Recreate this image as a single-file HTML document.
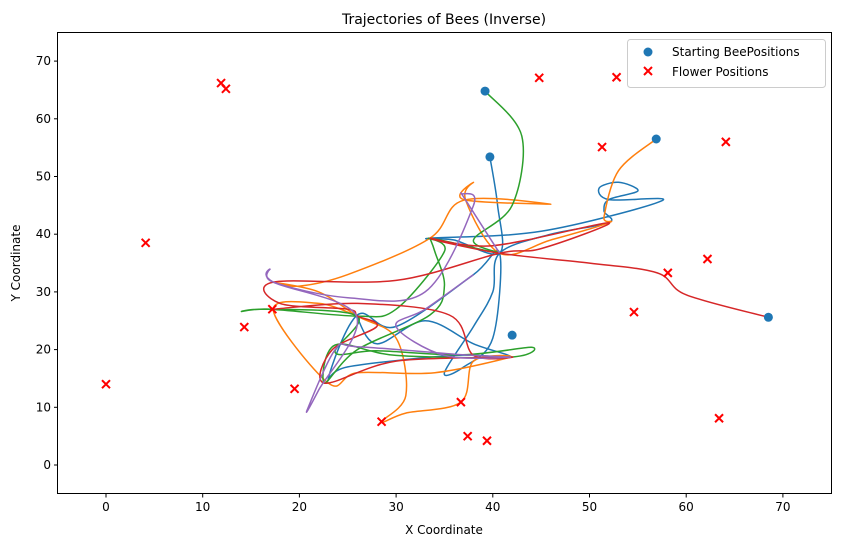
<!DOCTYPE html>
<html><head><meta charset="utf-8">
<style>
html,body{margin:0;padding:0;background:#fff;}
svg{display:block;font-family:"DejaVu Sans","Liberation Sans",sans-serif;}
</style></head>
<body>
<svg id="chart" width="841" height="547" viewBox="0 0 841 547">
<text x="444" y="24" font-size="14" text-anchor="middle">Trajectories of Bees (Inverse)</text>
<g id="plot"></g>
<g id="axes"></g>
<text x="444" y="534" font-size="12" text-anchor="middle">X Coordinate</text>
<text x="20" y="263" font-size="12" text-anchor="middle" transform="rotate(-90 20 263)">Y Coordinate</text>
<g>
<rect x="627.5" y="39.5" width="198" height="48" rx="3" fill="#fff" stroke="#ccc"/>
<circle cx="648" cy="52" r="4.5" fill="#1f77b4"/>
<text x="672" y="56" font-size="12">Starting BeePositions</text>
<path d="M644,67 l8,8 M652,67 l-8,8" stroke="red" stroke-width="2"/>
<text x="672" y="76" font-size="12">Flower Positions</text>
</g>
</svg>
<script>
const xTicks=[0,10,20,30,40,50,60,70];
const yTicks=[0,10,20,30,40,50,60,70];
const beeX=[39.2,39.7,56.9,68.5,42.0];
const beeY=[64.8,53.4,56.5,25.6,22.5];
const flowerX=[11.9,12.4,44.8,52.8,64.1,51.3,4.1,0,14.3,17.2,19.5,28.5,36.7,37.4,39.4,62.2,58.1,54.6,63.4];
const flowerY=[66.2,65.2,67.1,67.2,56.0,55.1,38.5,14.0,23.9,27.0,13.2,7.5,10.9,5.0,4.2,35.7,33.3,26.5,8.1];
const trajBlueX=[39.7,40.5,40.7,36,33.5,45,57.5,52,51,53,55,52,51.5,52,46,40.7,40,38,35,37,40,40.7,38,30,26,23,25,36,41.8,38,33,28,25.9];
const trajBlueY=[53.4,45,36.7,39,39.3,40.5,45.8,46,48,49,47.5,46,44,42,40,36.7,30,24,16,17,22,36.7,33,24,26,15,17,19,18.7,21,25,21,25.8];
const trajOrangeX=[56.9,53,51.5,52,46,40.7,37.2,38,37,46,37,33.5,25,20,17.3,22,26,30,31,28.5,31,36.7,38,41.8,34,26,23,17.3,22,26];
const trajOrangeY=[56.5,51,43,42,39,36.7,45.9,49,46,45.2,45.9,39.3,33,31,31.7,30,25.8,22,12,7.5,9,10.9,18,18.7,16,16,14.2,26.8,28,25.8];
const trajGreenX=[39.2,43,42,38,40.7,33.5,35,30,26,17,14,17.3,26,23.7,28,36.9,44,41.8,30,23.7,22.6,26,33.5,35,34,33.5];
const trajGreenY=[64.8,57,45,39,36.7,39.3,37,27,25.8,27,26.6,27,25.8,19.5,19.8,19.1,20.4,18.7,19,20.8,14.2,20,26,31,37,39.3];
const trajRedX=[68.5,60,57,50,40.7,33.5,40,52,45,40.7,30,17.3,18,25,26,28,23.4,22.6,30,41.8,38,35.5,26,17.3];
const trajRedY=[25.6,29.5,33.3,35,36.7,39.3,38,42,37.5,36.7,32,31.7,28,27,25.8,24,20,14.2,18,18.7,19,26,28,27];
const trajPurpleX=[40.7,37.2,36.8,38,33,25,17.3,17,17.3,25.9,22,20.8,23.7,26,36.9,41.8,35,30,33,38];
const trajPurpleY=[36.7,45.9,47,45,30,29,31.7,34,31.7,25.8,13,9.5,20,20.5,19.1,18.7,19,24,27,33];

const X0=106,XS=9.67,Y0=465,YS=5.77;
function sx(v){return X0+v*XS;}
function sy(v){return Y0-v*YS;}
const NS='http://www.w3.org/2000/svg';
const plot=document.getElementById('plot'),axes=document.getElementById('axes');
function mk(tag,attrs,parent){const e=document.createElementNS(NS,tag);for(const k in attrs)e.setAttribute(k,attrs[k]);parent.appendChild(e);return e;}

function smoothPath(xs,ys){
  const p=xs.map((x,i)=>[sx(x),sy(ys[i])]);
  let d='M'+p[0][0].toFixed(1)+','+p[0][1].toFixed(1);
  for(let i=0;i<p.length-1;i++){
    const p0=p[i-1]||p[i],p1=p[i],p2=p[i+1],p3=p[i+2]||p2;
    const c1=[p1[0]+(p2[0]-p0[0])/6,p1[1]+(p2[1]-p0[1])/6];
    const c2=[p2[0]-(p3[0]-p1[0])/6,p2[1]-(p3[1]-p1[1])/6];
    d+=' C'+c1[0].toFixed(1)+','+c1[1].toFixed(1)+' '+c2[0].toFixed(1)+','+c2[1].toFixed(1)+' '+p2[0].toFixed(1)+','+p2[1].toFixed(1);
  }
  return d;
}
const series=[[trajBlueX,trajBlueY,'#1f77b4','trajectory-blue'],[trajOrangeX,trajOrangeY,'#ff7f0e','trajectory-orange'],[trajGreenX,trajGreenY,'#2ca02c','trajectory-green'],[trajRedX,trajRedY,'#d62728','trajectory-red'],[trajPurpleX,trajPurpleY,'#9467bd','trajectory-purple']];
series.forEach(s=>{
  const e=mk('path',{d:smoothPath(s[0],s[1]),fill:'none',stroke:s[2],'stroke-width':1.5},plot);
  
  
});
beeX.forEach((x,i)=>{
  const c=mk('circle',{cx:sx(x),cy:sy(beeY[i]),r:4.5,fill:'#1f77b4'},plot);
  
  
});
flowerX.forEach((x,i)=>{
  const cx=sx(x),cy=sy(flowerY[i]);
  const m=mk('path',{d:`M${cx-4},${cy-4} l8,8 M${cx+4},${cy-4} l-8,8`,stroke:'red','stroke-width':2},plot);
  
  
});
const fr=mk('rect',{x:57.5,y:32.5,width:774,height:461,fill:'none',stroke:'#000','stroke-width':1},axes);


xTicks.forEach(t=>{
  const x=sx(t);
  mk('line',{x1:x,x2:x,y1:494,y2:497.5,stroke:'#000'},axes);
  const tx=mk('text',{x:x,y:511,'font-size':12,'text-anchor':'middle'},axes);
  tx.textContent=t;
  
  
});
yTicks.forEach(t=>{
  const y=sy(t);
  mk('line',{x1:54,x2:57.5,y1:y,y2:y,stroke:'#000'},axes);
  const tx=mk('text',{x:51,y:y+4,'font-size':12,'text-anchor':'end'},axes);
  tx.textContent=t;
  
  
});
</script>
</body></html>
